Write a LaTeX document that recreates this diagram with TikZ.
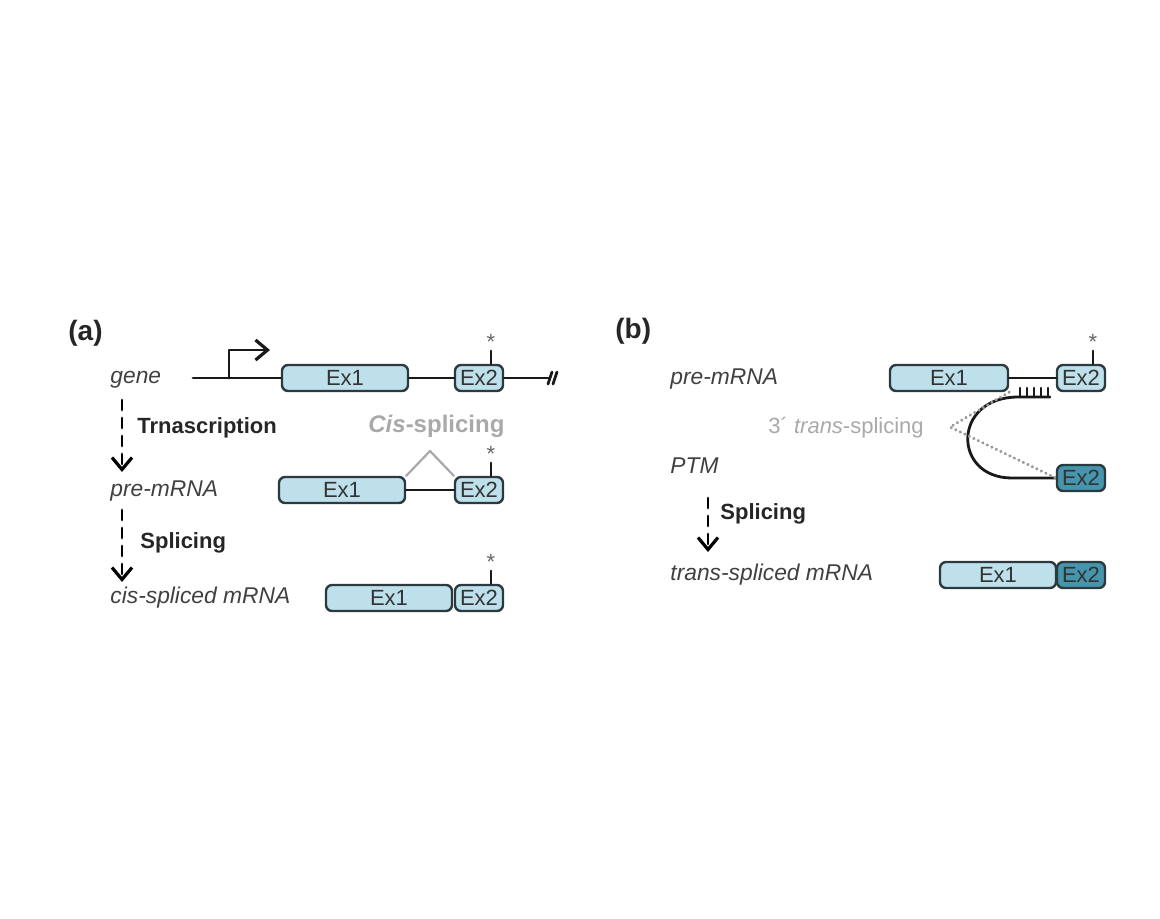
\documentclass[tikz,border=0pt]{standalone}
\usepackage{fontspec}
\setmainfont{Liberation Sans}
\usepackage{xcolor}
\usepackage{tikz}
\usetikzlibrary{arrows.meta}
\usetikzlibrary{positioning,calc}

\definecolor{exlight}{HTML}{BDE0EB}
\definecolor{exteal}{HTML}{4596AC}
\definecolor{exedge}{HTML}{2C3A3F}
\definecolor{labgray}{HTML}{A9A9A9}

\begin{document}
\begin{tikzpicture}[x=0.5pt,y=-0.5pt,>=Latex,line join=round,line cap=round]
% -------------------------------------------------
% Styles
% -------------------------------------------------
\tikzset{
  exon/.style={draw=exedge, fill=exlight, line width=1.2pt, rounded corners=3pt,
    minimum height=13pt, inner sep=0pt, text=black!80, font=\fontsize{11}{11}\selectfont},
  exonteal/.style={exon, fill=exteal},
  strand/.style={draw=black!90, line width=1.4pt},
  chevron/.style={-{Straight Barb[length=6pt,width=10pt,line width=1.6pt]}},
  flow/.style={chevron, line width=1.4pt, dash pattern=on 5pt off 4pt},
  tick/.style={draw=black!90, line width=1.2pt},
  starnode/.style={text=black!60, inner sep=0pt, font=\fontsize{11}{11}\selectfont},
  lab/.style={anchor=west, inner sep=0pt, text=black!75, font=\fontsize{11.4}{11.4}\selectfont\itshape},
  steplab/.style={anchor=west, inner sep=0pt, text=black!85, font=\fontsize{11}{11}\selectfont\bfseries},
  panel/.style={anchor=west, inner sep=0pt, text=black!85, font=\fontsize{14}{14}\selectfont\bfseries},
  graylab/.style={anchor=west, inner sep=0pt, text=labgray, font=\fontsize{11}{11}\selectfont},
}
\useasboundingbox (0,0) rectangle (1160,918);
% -------------------------------------------------
% PANEL (a)
% -------------------------------------------------
\node[panel] (pa) at (68,333) {(a)};

% gene
\node[lab] (gene) at (110,380) {gene};
\node[exon, minimum width=63pt] (g-ex1) at (345,378) {Ex1};
\node[exon, minimum width=24pt] (g-ex2) at (479,378) {Ex2};
\coordinate (gstart) at (193,378);
\coordinate (gend) at (549,378);
\coordinate (tss) at (229,378);
\coordinate (tssend) at (270,350);
\draw[strand] (gstart) -- (g-ex1.west);
\draw[strand] (g-ex1.east) -- (g-ex2.west);
\draw[strand] (g-ex2.east) -- (gend);
\draw[strand] (548,384) -- (552,372);
\draw[strand] (553,384) -- (557,372);
\draw[strand,chevron] (tss) |- (tssend);

% transcription
\coordinate (ta1) at (122,400);
\coordinate (ta2) at (122,472);
\draw[flow] (ta1) -- (ta2);
\node[steplab] (trans) at (137,428) {Trnascription};

% pre-mRNA
\node[lab] (pre) at (110,491) {pre-mRNA};
\node[exon, minimum width=63pt] (p-ex1) at (342,490) {Ex1};
\node[exon, minimum width=24pt] (p-ex2) at (479,490) {Ex2};
\draw[strand] (p-ex1.east) -- (p-ex2.west);
\coordinate (cistop) at (430,451);
\draw[labgray, line width=1.1pt] (p-ex1.north east) -- (cistop) -- (p-ex2.north west);
\node[graylab, font=\fontsize{12}{12}\selectfont\bfseries] (cis) at (368,426) {\textit{Cis}-splicing};

% splicing
\coordinate (ta3) at (122,510);
\coordinate (ta4) at (122,582);
\draw[flow] (ta3) -- (ta4);
\node[steplab] (spla) at (140,543) {Splicing};

% cis-spliced mRNA
\node[lab] (cism) at (110,598) {cis-spliced mRNA};
\node[exon, minimum width=63pt] (c-ex1) at (389,598) {Ex1};
\node[exon, minimum width=24pt] (c-ex2) at (479,598) {Ex2};

% -------------------------------------------------
% PANEL (b)
% -------------------------------------------------
\node[panel] (pb) at (615,331) {(b)};

% pre-mRNA
\node[lab] (bpre) at (670,379) {pre-mRNA};
\node[exon, minimum width=59pt] (bp-ex1) at (949,378) {Ex1};
\node[exon, minimum width=24pt] (bp-ex2) at (1081,378) {Ex2};
\draw[strand] (bp-ex1.east) -- (bp-ex2.west);

% PTM
\node[lab] (ptm) at (670,466) {PTM};
\node[exonteal, minimum width=24pt] (ptm-ex2) at (1081,478) {Ex2};
\coordinate (combl) at (1018,397);
\coordinate (combr) at (1050,397);
\draw[strand] (combr) -- (combl) .. controls (952,397) and (952,478) .. (1012,478) -- (ptm-ex2.west);
\foreach \x in {1020,1027,1034,1041,1048}{
  \draw[tick] (\x,397) -- (\x,388);
}

% 3' trans-splicing
\coordinate (tsp) at (950,427);
\draw[black!40, line width=1.6pt, dash pattern=on 0.1pt off 2.4pt] (bp-ex1.south east) -- (tsp) -- (ptm-ex2.west);
\node[graylab] (tlab) at (768,428) {3´ \textit{trans}-splicing};

% splicing
\coordinate (tb1) at (708,498);
\coordinate (tb2) at (708,552);
\draw[flow] (tb1) -- (tb2);
\node[steplab] (splb) at (720,514) {Splicing};

% trans-spliced mRNA
\node[lab] (tsm) at (670,575) {trans-spliced mRNA};
\node[exon, minimum width=58pt] (t-ex1) at (998,575) {Ex1};
\node[exonteal, minimum width=24pt] (t-ex2) at (1081,575) {Ex2};

% mutation marks
\foreach \b in {g-ex2,p-ex2,c-ex2,bp-ex2}{
  \draw[tick] ($(\b.north)+(12,0)$) -- ++(0,-13) node[starnode, anchor=south] {*};
}

\end{tikzpicture}
\end{document}
